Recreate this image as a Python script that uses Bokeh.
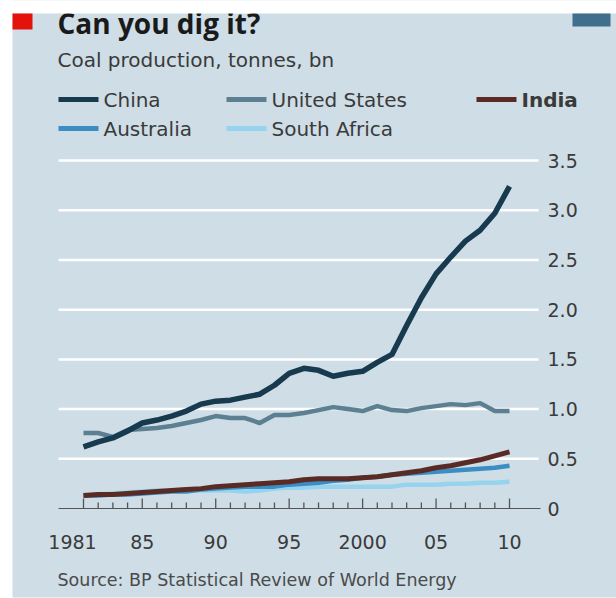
from bokeh.plotting import figure
from bokeh.models import Range1d
from bokeh.core.properties import value
from bokeh.embed import file_html
from bokeh.resources import INLINE

# ---------------- data (bn tonnes) ----------------
years = list(range(1981, 2011))
china = [0.62, 0.67, 0.71, 0.78, 0.86, 0.89, 0.93, 0.98, 1.05, 1.08,
         1.09, 1.12, 1.15, 1.24, 1.36, 1.41, 1.39, 1.33, 1.36, 1.38,
         1.47, 1.55, 1.84, 2.12, 2.36, 2.53, 2.69, 2.80, 2.97, 3.24]
united_states = [0.76, 0.76, 0.72, 0.79, 0.80, 0.81, 0.83, 0.86, 0.89, 0.93,
                 0.91, 0.91, 0.86, 0.94, 0.94, 0.96, 0.99, 1.02, 1.00, 0.98,
                 1.03, 0.99, 0.98, 1.01, 1.03, 1.05, 1.04, 1.06, 0.98, 0.98]
india = [0.13, 0.14, 0.14, 0.15, 0.16, 0.17, 0.18, 0.19, 0.20, 0.22,
         0.23, 0.24, 0.25, 0.26, 0.27, 0.29, 0.30, 0.30, 0.30, 0.31,
         0.32, 0.34, 0.36, 0.38, 0.41, 0.43, 0.46, 0.49, 0.53, 0.57]
australia = [0.13, 0.13, 0.14, 0.14, 0.15, 0.16, 0.17, 0.17, 0.19, 0.20,
             0.21, 0.22, 0.22, 0.22, 0.24, 0.25, 0.26, 0.28, 0.29, 0.31,
             0.32, 0.34, 0.35, 0.36, 0.37, 0.38, 0.39, 0.40, 0.41, 0.43]
south_africa = [0.13, 0.14, 0.15, 0.16, 0.17, 0.18, 0.18, 0.18, 0.18, 0.18,
                0.18, 0.17, 0.18, 0.20, 0.21, 0.21, 0.22, 0.22, 0.22, 0.22,
                0.22, 0.22, 0.24, 0.24, 0.24, 0.25, 0.25, 0.26, 0.26, 0.27]

y_ticks = [0, 0.5, 1.0, 1.5, 2.0, 2.5, 3.0, 3.5]
y_tick_labels = ["0", "0.5", "1.0", "1.5", "2.0", "2.5", "3.0", "3.5"]
x_ticks = [1981, 1985, 1990, 1995, 2000, 2005, 2010]
x_tick_labels = ["1981", "85", "90", "95", "2000", "05", "10"]

title_text = "Can you dig it?"
subtitle_text = "Coal production, tonnes, bn"
source_text = "Source: BP Statistical Review of World Energy"

# ---------------- layout helpers (pixel -> data) ----------------
W, H = 616, 598
PX_1981, PX_PER_YEAR = 83.0, 14.69
PY_ZERO, PX_PER_UNIT = 508.0, 99.4


def dx(px):
    return 1981 + (px - PX_1981) / PX_PER_YEAR


def dy(py):
    return (PY_ZERO - py) / PX_PER_UNIT


TFONT = "Open Sans"
FONT = "DejaVu Sans"
BG = "#cedde6"
TXT = "#3a3a3a"

p = figure(width=W, height=H, x_range=Range1d(dx(0), dx(W)), y_range=Range1d(dy(H), dy(0)),
           x_axis_type=None, y_axis_type=None, toolbar_location=None, min_border=0,
           output_backend="svg", title=None)
p.outline_line_color = None
p.background_fill_color = "white"
p.border_fill_color = "white"

# panel background
p.quad(left=[dx(12)], right=[dx(W)], top=[dy(0)], bottom=[dy(597)], fill_color=BG, line_color=None)

# gridlines
grid_y = [t for t in y_ticks if t > 0]
p.segment(x0=[dx(58)] * len(grid_y), x1=[dx(538)] * len(grid_y), y0=grid_y, y1=grid_y,
          line_color="white", line_width=2.5)
# baseline
p.segment(x0=[dx(58)], x1=[dx(540)], y0=[0], y1=[0], line_color="#555555", line_width=1.2)

# x ticks (upward)
minor = [y for y in years if y not in x_ticks]
p.segment(x0=minor, x1=minor, y0=[0] * len(minor), y1=[dy(PY_ZERO - 6)] * len(minor),
          line_color="#555555", line_width=1.3)
p.segment(x0=x_ticks, x1=x_ticks, y0=[0] * len(x_ticks), y1=[dy(PY_ZERO - 10)] * len(x_ticks),
          line_color="#555555", line_width=1.3)

# series
p.line(years, south_africa, line_color="#96d3ee", line_width=4.5, line_join="round")
p.line(years, australia, line_color="#3b8ec3", line_width=4.5, line_join="round")
p.line(years, india, line_color="#5a2a25", line_width=5, line_join="round")
p.line(years, united_states, line_color="#5c8092", line_width=4.5, line_join="round")
p.line(years, china, line_color="#173a4f", line_width=5.5, line_join="round")

# y tick labels (right)
p.text(x=[dx(547)] * len(y_ticks), y=y_ticks, text=y_tick_labels,
       text_font=value(FONT), text_font_size="19px", text_color=TXT,
       text_align="left", text_baseline="middle")
# x tick labels (first one sits a little left of its tick)
p.text(x=x_ticks[:1], y=[dy(541)], text=x_tick_labels[:1], x_offset=-11,
       text_font=value(FONT), text_font_size="19px", text_color=TXT,
       text_align="center", text_baseline="middle")
p.text(x=x_ticks[1:], y=[dy(541)] * (len(x_ticks) - 1), text=x_tick_labels[1:],
       text_font=value(FONT), text_font_size="19px", text_color=TXT,
       text_align="center", text_baseline="middle")

# title, subtitle, source
p.text(x=[dx(57)], y=[dy(22)], text=[title_text], text_font=value(TFONT),
       text_font_style="bold", text_font_size="28px", text_color="#1a1a1a",
       text_align="left", text_baseline="middle")
p.text(x=[dx(57)], y=[dy(59)], text=[subtitle_text], text_font=value(FONT),
       text_font_size="20px", text_color=TXT, text_align="left", text_baseline="middle")
p.text(x=[dx(57)], y=[dy(579)], text=[source_text], text_font=value(FONT),
       text_font_size="17.5px", text_color="#4a4a4a", text_align="left", text_baseline="middle")

# legend
leg_names = ["China", "United States", "India", "Australia", "South Africa"]
leg_colors = ["#173a4f", "#5c8092", "#5a2a25", "#3b8ec3", "#96d3ee"]
leg_x0 = [58, 226, 476, 58, 226]
leg_py = [99, 99, 99, 128, 128]
leg_bold = ["normal", "normal", "bold", "normal", "normal"]
for name, col, x0, py, st in zip(leg_names, leg_colors, leg_x0, leg_py, leg_bold):
    p.segment(x0=[dx(x0)], x1=[dx(x0 + 40)], y0=[dy(py)], y1=[dy(py)], line_color=col, line_width=5)
    p.text(x=[dx(x0 + 45)], y=[dy(py)], text=[name], text_font=value(FONT), text_font_style=st,
           text_font_size="20px", text_color=TXT, text_align="left", text_baseline="middle")

# top white band, red tag, blue corner box
p.quad(left=[dx(0)], right=[dx(W)], top=[dy(0)], bottom=[dy(13)], fill_color="white", line_color=None)
p.quad(left=[dx(12)], right=[dx(32)], top=[dy(13)], bottom=[dy(29)], fill_color="#e3120b", line_color=None)
p.quad(left=[dx(572)], right=[dx(610)], top=[dy(13)], bottom=[dy(26)], fill_color="#3f6f8c", line_color=None)

open("out.html", "w").write(file_html(p, INLINE))
